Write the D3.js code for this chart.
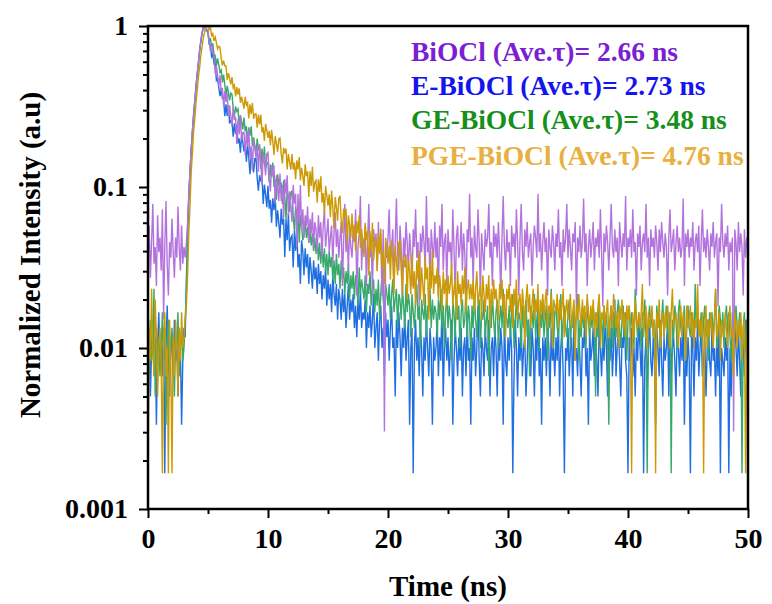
<!DOCTYPE html>
<html>
<head>
<meta charset="utf-8">
<script src="https://cdn.jsdelivr.net/npm/d3@7"></script>
<style>
  body { margin: 0; background: #fff; }
  svg text { font-family: "Liberation Serif", "Times New Roman", serif; font-weight: bold; }
</style>
</head>
<body>
<div id="plot"></div>
<script>
// TCSPC decay channels, 0.1 ns apart, raw counts per channel
var timeStep = 0.1;

var sampleNames = ["BiOCl", "E-BiOCl", "GE-BiOCl", "PGE-BiOCl"];
var aveTau = [2.66, 2.73, 3.48, 4.76];
var peakCounts = [330, 600, 600, 600];

var bioclCounts = [
  12, 19, 9, 15, 26, 11, 14, 8, 22, 13,
  16, 10, 24, 5, 14, 27, 11, 7, 15, 12,
  21, 13, 9, 16, 12, 25, 14, 10, 19, 11,
  14, 12, 15, 20, 30, 42, 55, 74, 91, 113,
  137, 166, 192, 234, 262, 300, 319, 330, 316, 309,
  314, 264, 230, 251, 225, 223, 166, 185, 163, 140,
  163, 129, 136, 106, 130, 111, 127, 92, 106, 91,
  79, 103, 86, 90, 61, 87, 70, 92, 64, 72,
  72, 52, 73, 59, 76, 51, 59, 42, 66, 58,
  50, 59, 41, 61, 47, 34, 54, 47, 39, 53,
  54, 38, 31, 45, 39, 45, 26, 39, 33, 27,
  40, 27, 34, 21, 37, 30, 39, 22, 31, 25,
  20, 34, 26, 30, 14, 30, 20, 34, 18, 24,
  16, 22, 19, 25, 15, 21, 17, 23, 14, 20,
  18, 13, 22, 16, 20, 12, 19, 24, 14, 17,
  21, 13, 16, 19, 11, 17, 23, 14, 18, 12,
  16, 20, 8, 15, 26, 13, 17, 10, 19, 14,
  12, 18, 15, 24, 7, 14, 17, 29, 10, 16,
  13, 19, 8, 15, 26, 12, 16, 7, 18, 14,
  17, 10, 20, 13, 15, 7, 18, 1, 14, 12,
  16, 24, 12, 14, 18, 8, 15, 28, 13, 10,
  19, 14, 7, 16, 12, 20, 15, 10, 17, 13,
  8, 18, 14, 24, 12, 15, 6, 17, 13, 19,
  15, 10, 29, 13, 16, 8, 18, 14, 12, 20,
  12, 16, 7, 19, 14, 26, 10, 15, 17, 8,
  18, 13, 15, 10, 24, 14, 7, 16, 19, 12,
  14, 20, 10, 17, 13, 6, 18, 15, 30, 12,
  16, 8, 19, 14, 12, 24, 15, 7, 17, 13,
  10, 18, 14, 16, 26, 12, 15, 8, 19, 14,
  17, 12, 20, 13, 7, 16, 29, 14, 10, 18,
  13, 15, 8, 19, 14, 17, 12, 24, 15, 7,
  16, 26, 13, 10, 18, 14, 20, 12, 15, 17,
  8, 14, 19, 16, 12, 30, 13, 17, 10, 15,
  20, 13, 16, 7, 18, 14, 12, 19, 15, 10,
  17, 14, 24, 12, 15, 8, 18, 13, 16, 26,
  12, 18, 14, 10, 17, 15, 20, 6, 16, 13,
  19, 12, 15, 28, 13, 17, 8, 14, 18, 12,
  15, 20, 10, 16, 14, 18, 12, 24, 13, 6,
  17, 13, 19, 15, 10, 16, 26, 14, 12, 18,
  13, 16, 8, 20, 15, 12, 17, 14, 29, 10,
  16, 14, 18, 12, 24, 13, 15, 7, 17, 14,
  19, 10, 15, 17, 13, 26, 12, 16, 8, 18,
  14, 16, 12, 19, 15, 10, 18, 13, 20, 15,
  12, 17, 14, 7, 16, 24, 13, 15, 18, 10,
  15, 19, 13, 16, 12, 14, 28, 8, 17, 14,
  18, 12, 16, 14, 20, 10, 15, 17, 13, 19,
  8, 15, 24, 13, 16, 12, 18, 14, 10, 17,
  14, 20, 12, 15, 17, 6, 16, 13, 26, 15,
  12, 17, 14, 19, 10, 15, 13, 16, 1, 18,
  15, 10, 20, 13, 17, 14, 7, 18, 12, 16,
  14
];

var eBioclCounts = [
  5, 8, 3, 6, 9, 4, 7, 2, 6, 10,
  5, 7, 4, 8, 1, 6, 11, 5, 3, 7,
  6, 4, 9, 5, 7, 3, 8, 6, 2, 5,
  8, 7, 16, 31, 53, 72, 105, 128, 171, 200,
  256, 296, 358, 415, 486, 535, 585, 600, 571, 560,
  543, 462, 456, 387, 402, 350, 355, 275, 281, 249,
  220, 246, 213, 211, 165, 196, 166, 193, 149, 155,
  154, 123, 149, 128, 147, 112, 120, 98, 126, 113,
  100, 110, 86, 111, 91, 72, 97, 86, 74, 90,
  90, 68, 57, 71, 65, 70, 47, 62, 54, 45,
  61, 44, 50, 36, 51, 43, 53, 34, 43, 36,
  29, 44, 35, 38, 22, 38, 28, 41, 24, 29,
  30, 19, 32, 24, 33, 19, 23, 15, 28, 24,
  17, 25, 19, 23, 15, 22, 18, 14, 21, 16,
  19, 13, 20, 15, 18, 12, 17, 14, 19, 11,
  16, 12, 15, 10, 17, 13, 11, 15, 9, 14,
  12, 9, 14, 10, 13, 8, 11, 15, 9, 12,
  10, 13, 8, 11, 7, 12, 9, 14, 8, 10,
  9, 12, 6, 10, 8, 11, 7, 9, 13, 6,
  8, 10, 5, 9, 11, 6, 8, 4, 10, 7,
  9, 5, 8, 11, 6, 7, 3, 9, 6, 10,
  7, 4, 8, 6, 10, 5, 7, 9, 2, 6,
  8, 1, 6, 9, 5, 7, 4, 8, 6, 3,
  7, 5, 9, 6, 4, 8, 6, 2, 7, 5,
  6, 9, 4, 7, 5, 12, 3, 6, 8, 5,
  7, 4, 6, 9, 2, 5, 8, 6, 4, 7,
  5, 8, 3, 6, 7, 4, 9, 5, 6, 2,
  7, 5, 8, 4, 6, 11, 5, 3, 7, 6,
  4, 8, 6, 5, 9, 3, 6, 7, 4, 8,
  6, 3, 7, 5, 8, 6, 2, 9, 5, 4,
  7, 5, 8, 6, 1, 4, 9, 6, 3, 7,
  5, 8, 4, 6, 7, 3, 5, 9, 6, 4,
  8, 6, 3, 7, 5, 11, 4, 6, 2, 7,
  5, 7, 4, 9, 6, 3, 8, 5, 6, 4,
  7, 5, 9, 3, 6, 8, 4, 1, 6, 5,
  8, 4, 6, 7, 3, 9, 5, 6, 4, 8,
  5, 3, 7, 6, 9, 4, 6, 2, 8, 5,
  6, 8, 4, 7, 5, 3, 9, 6, 4, 7,
  5, 9, 6, 3, 7, 5, 8, 4, 6, 12,
  4, 6, 8, 5, 3, 7, 6, 9, 5, 4,
  1, 7, 5, 8, 4, 6, 3, 7, 5, 9,
  6, 4, 8, 1, 5, 7, 3, 6, 9, 5,
  4, 7, 5, 2, 8, 6, 4, 9, 5, 3,
  7, 5, 6, 9, 3, 8, 4, 6, 7, 5,
  3, 8, 6, 4, 7, 5, 9, 2, 6, 4,
  7, 5, 1, 8, 6, 3, 7, 5, 9, 4,
  6, 8, 4, 5, 7, 3, 6, 9, 5, 4,
  8, 5, 6, 3, 7, 4, 9, 1, 6, 5,
  4, 7, 5, 8, 1, 6, 3, 7, 5, 9,
  6, 4, 8, 5, 3, 7, 6, 4, 9, 5,
  6
];

var geBioclCounts = [
  7, 4, 9, 5, 6, 14, 3, 8, 5, 7,
  4, 6, 10, 5, 8, 2, 7, 9, 4, 6,
  8, 5, 3, 7, 6, 10, 4, 6, 8, 5,
  6, 9, 14, 30, 50, 75, 100, 133, 165, 207,
  248, 302, 350, 421, 478, 541, 578, 600, 588, 566,
  548, 470, 504, 447, 469, 394, 395, 339, 378, 343,
  309, 319, 268, 299, 259, 221, 255, 232, 207, 230,
  226, 184, 165, 190, 177, 183, 144, 168, 153, 137,
  162, 133, 143, 115, 141, 125, 143, 108, 122, 109,
  96, 120, 103, 107, 78, 104, 85, 107, 78, 85,
  85, 64, 83, 69, 85, 60, 67, 50, 72, 63,
  55, 64, 47, 66, 52, 38, 58, 50, 42, 55,
  57, 40, 32, 45, 40, 45, 27, 40, 34, 28,
  30, 37, 29, 34, 27, 32, 26, 31, 24, 29,
  23, 29, 21, 27, 20, 26, 19, 25, 18, 23,
  17, 24, 19, 22, 16, 21, 15, 23, 17, 20,
  14, 21, 16, 19, 13, 18, 15, 20, 12, 17,
  14, 18, 12, 17, 15, 11, 19, 13, 16, 14,
  12, 17, 10, 15, 13, 18, 11, 14, 16, 10,
  14, 11, 16, 9, 13, 17, 12, 10, 15, 13,
  11, 15, 9, 13, 16, 10, 12, 14, 8, 13,
  12, 9, 14, 11, 8, 15, 10, 13, 11, 7,
  13, 10, 8, 12, 15, 9, 11, 6, 12, 10,
  9, 13, 7, 11, 10, 14, 8, 12, 9, 11,
  10, 7, 12, 9, 14, 8, 11, 6, 10, 13,
  8, 11, 9, 5, 12, 10, 7, 13, 9, 11,
  6, 10, 12, 8, 9, 14, 7, 11, 9, 5,
  11, 8, 13, 9, 7, 10, 12, 6, 10, 9,
  12, 7, 9, 11, 4, 10, 8, 13, 9, 7,
  10, 12, 6, 9, 11, 8, 14, 7, 10, 9,
  8, 11, 7, 10, 13, 6, 9, 12, 8, 10,
  9, 6, 11, 8, 10, 12, 7, 9, 4, 11,
  10, 8, 13, 7, 9, 11, 6, 10, 8, 12,
  7, 9, 11, 5, 10, 8, 14, 9, 6, 10,
  11, 8, 7, 10, 13, 6, 9, 11, 8, 7,
  10, 12, 6, 9, 8, 11, 7, 10, 13, 5,
  9, 7, 11, 8, 10, 6, 12, 9, 7, 10,
  8, 11, 9, 3, 10, 7, 12, 8, 9, 6,
  11, 8, 10, 7, 2, 9, 11, 6, 10, 8,
  7, 10, 12, 8, 6, 9, 11, 7, 10, 5,
  9, 11, 7, 10, 8, 6, 14, 9, 7, 10,
  8, 6, 10, 9, 12, 7, 1, 9, 11, 8,
  10, 7, 9, 5, 11, 8, 10, 6, 9, 12,
  7, 9, 11, 8, 6, 10, 1, 9, 7, 11,
  9, 6, 10, 12, 8, 7, 9, 11, 5, 8,
  11, 8, 7, 10, 9, 6, 15, 8, 10, 7,
  8, 10, 6, 9, 11, 7, 9, 5, 10, 8,
  10, 7, 9, 14, 6, 8, 11, 9, 7, 10,
  6, 9, 11, 8, 10, 7, 5, 10, 9, 8,
  11, 8, 7, 10, 9, 1, 8, 10, 6, 9,
  8
];

var pgeBioclCounts = [
  1, 8, 5, 14, 6, 4, 12, 7, 3, 6,
  8, 5, 1, 7, 10, 4, 6, 1, 9, 5,
  1, 7, 4, 9, 6, 3, 8, 5, 10, 6,
  7, 9, 11, 17, 31, 46, 74, 97, 133, 158,
  201, 236, 289, 330, 394, 440, 503, 541, 580, 592,
  600, 571, 590, 524, 538, 485, 512, 472, 432, 449,
  443, 378, 341, 366, 339, 339, 278, 306, 284, 260,
  289, 247, 257, 219, 250, 225, 246, 200, 218, 201,
  184, 218, 194, 200, 160, 196, 170, 200, 159, 170,
  171, 140, 169, 147, 169, 131, 141, 116, 148, 135,
  121, 134, 109, 136, 115, 95, 124, 112, 99, 119,
  121, 96, 84, 105, 97, 104, 77, 96, 86, 77,
  96, 77, 85, 67, 88, 77, 92, 66, 79, 70,
  61, 83, 70, 75, 52, 75, 61, 80, 56, 64,
  66, 48, 67, 56, 70, 48, 55, 41, 61, 53,
  46, 54, 39, 57, 45, 33, 52, 45, 37, 51,
  53, 37, 31, 44, 39, 44, 27, 40, 35, 29,
  41, 29, 35, 24, 37, 31, 40, 25, 33, 27,
  22, 36, 28, 32, 17, 32, 24, 36, 21, 27,
  29, 18, 31, 23, 33, 19, 24, 15, 29, 25,
  20, 26, 16, 28, 21, 13, 26, 21, 17, 27,
  28, 18, 13, 22, 19, 23, 12, 21, 18, 13,
  23, 14, 18, 11, 21, 16, 24, 12, 19, 15,
  11, 22, 16, 19, 9, 20, 14, 24, 13, 17,
  15, 19, 12, 17, 14, 10, 18, 13, 16, 11,
  17, 13, 15, 20, 11, 14, 16, 9, 18, 13,
  15, 11, 17, 13, 19, 10, 14, 16, 12, 15,
  12, 16, 10, 14, 18, 11, 13, 15, 9, 17,
  13, 10, 15, 12, 17, 8, 14, 11, 16, 12,
  14, 11, 9, 15, 12, 16, 10, 13, 7, 14,
  12, 15, 10, 13, 8, 14, 11, 16, 9, 12,
  13, 9, 14, 11, 6, 12, 15, 10, 13, 8,
  11, 14, 9, 12, 10, 15, 7, 12, 10, 13,
  9, 12, 14, 8, 11, 10, 13, 6, 12, 11,
  10, 13, 8, 12, 9, 11, 14, 7, 10, 12,
  9, 11, 13, 8, 10, 12, 5, 11, 9, 13,
  10, 8, 12, 9, 11, 7, 13, 10, 8, 11,
  9, 12, 7, 10, 8, 11, 13, 6, 10, 9,
  11, 8, 10, 12, 7, 9, 11, 8, 13, 10,
  8, 10, 6, 11, 9, 12, 8, 10, 7, 11,
  9, 11, 8, 1, 10, 7, 12, 9, 8, 10,
  8, 10, 15, 7, 9, 11, 6, 10, 8, 9,
  11, 7, 9, 1, 10, 8, 12, 6, 9, 10,
  7, 10, 8, 11, 9, 6, 10, 14, 8, 9,
  10, 8, 6, 9, 11, 7, 10, 8, 5, 11,
  8, 9, 11, 7, 10, 6, 9, 8, 15, 7,
  9, 7, 10, 1, 8, 11, 6, 9, 7, 10,
  8, 6, 9, 14, 7, 8, 10, 5, 9, 8,
  7, 10, 8, 6, 9, 11, 7, 8, 4, 10,
  8, 6, 9, 7, 10, 5, 8, 9, 1, 7,
  8
];

var xTicks = [0, 10, 20, 30, 40, 50];
var xMinorTicks = [5, 15, 25, 35, 45];
var yTicks = [1, 0.1, 0.01, 0.001];
var yTickLabels = ["1", "0.1", "0.01", "0.001"];

// line colours and legend text colours, same order as sampleNames
var lineColors = ["#b373dd", "#1f6fe0", "#36a96b", "#cc9a06"];
var labelColors = ["#7a1fd2", "#1414ee", "#15901a", "#e8b040"];

// set the dimensions and margins of the graph
var margin = { top: 26, right: 24, bottom: 95, left: 148 },
    width = 772 - margin.left - margin.right,
    height = 604 - margin.top - margin.bottom;

var svg = d3.select("#plot")
    .append("svg")
    .attr("width", 772)
    .attr("height", 604)
    .append("g")
    .attr("transform", "translate(" + margin.left + "," + margin.top + ")");

var x = d3.scaleLinear().domain([0, 50]).range([0, width]);
var y = d3.scaleLog().domain([0.001, 1]).range([height, 0]);

svg.append("clipPath").attr("id", "plot-clip")
    .append("rect").attr("width", width).attr("height", height);

var allCounts = [bioclCounts, eBioclCounts, geBioclCounts, pgeBioclCounts];

// drawing order: E-BiOCl, GE-BiOCl, BiOCl, PGE-BiOCl on top
var drawOrder = [1, 2, 0, 3];
var lineLayer = svg.append("g").attr("clip-path", "url(#plot-clip)");
drawOrder.forEach(function(k) {
    var peak = peakCounts[k];
    var line = d3.line()
        .x(function(d, i) { return x(i * timeStep); })
        .y(function(d) { return y(d / peak); });
    lineLayer.append("path")
        .datum(allCounts[k])
        .attr("d", line)
        .attr("fill", "none")
        .attr("stroke", lineColors[k])
        .attr("stroke-width", 1.4)
        .attr("stroke-linejoin", "miter");
});

// X axis
svg.append("g").attr("class", "axis")
    .attr("transform", "translate(0," + height + ")")
    .call(d3.axisBottom(x).tickValues(xTicks).tickSize(9).tickPadding(10).tickFormat(d3.format("d")));
svg.append("g").attr("class", "axis")
    .attr("transform", "translate(0," + height + ")")
    .call(d3.axisBottom(x).tickValues(xMinorTicks).tickSize(5).tickFormat(""));

// Y axis, majors at decades, minors at 2..9
var yMinor = y.ticks().filter(function(v) {
    var l = Math.log10(v);
    return Math.abs(l - Math.round(l)) > 1e-6;
});
svg.append("g").attr("class", "axis")
    .call(d3.axisLeft(y).tickValues(yTicks).tickSize(9).tickPadding(11)
        .tickFormat(function(d, i) { return yTickLabels[i]; }));
svg.append("g").attr("class", "axis")
    .call(d3.axisLeft(y).tickValues(yMinor).tickSize(5).tickFormat(""));

svg.selectAll(".axis .domain").remove();
svg.selectAll(".axis .tick line").attr("stroke", "#000").attr("stroke-width", 2);
svg.selectAll(".axis .tick text")
    .attr("fill", "#000")
    .style("font-size", "28px");

// frame
svg.append("rect")
    .attr("width", width).attr("height", height)
    .attr("fill", "none")
    .attr("stroke", "#000")
    .attr("stroke-width", 2.5);

// axis labels
svg.append("text")
    .attr("text-anchor", "middle")
    .attr("x", width / 2)
    .attr("y", 596 - margin.top)
    .style("font-size", "29px")
    .text("Time (ns)");

svg.append("text")
    .attr("text-anchor", "middle")
    .attr("transform", "translate(" + (40 - margin.left) + "," + (255 - margin.top) + ") rotate(-90)")
    .style("font-size", "29px")
    .text("Normalized Intensity (a.u)");

// legend text
var legendBaselines = [61, 95, 129, 165];
sampleNames.forEach(function(name, k) {
    svg.append("text")
        .attr("x", 411 - margin.left)
        .attr("y", legendBaselines[k] - margin.top)
        .attr("fill", labelColors[k])
        .style("font-size", "27.5px")
        .text(name + " (Ave.\u03c4)= " + aveTau[k].toFixed(2) + " ns");
});
</script>
</body>
</html>
